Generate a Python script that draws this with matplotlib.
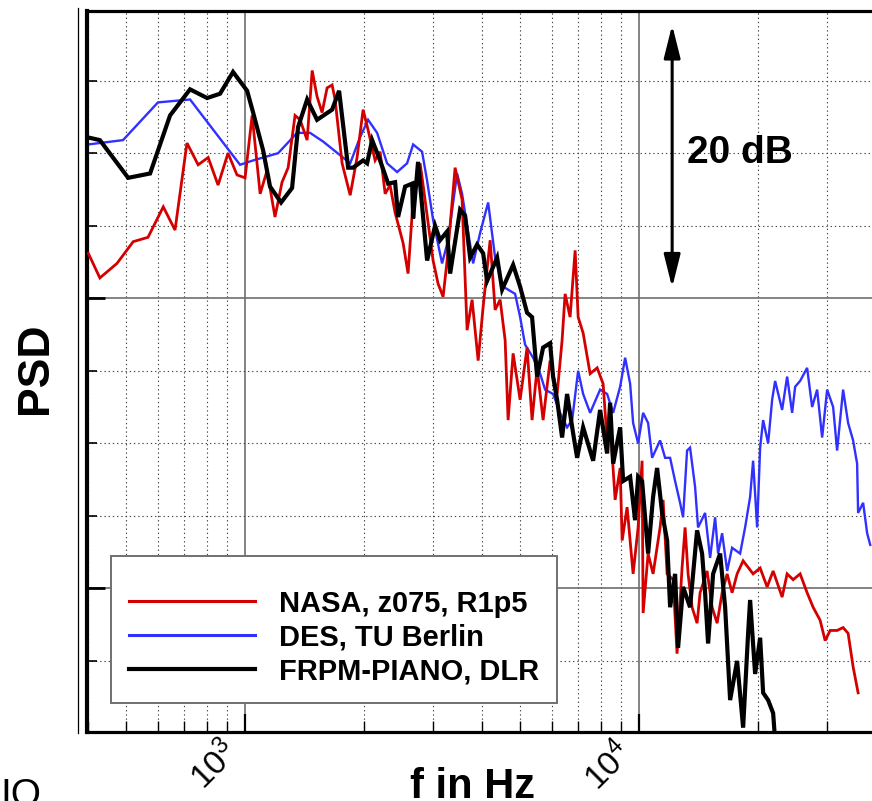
import matplotlib
matplotlib.use('Agg')
import matplotlib.pyplot as plt
from matplotlib.ticker import LogLocator, MultipleLocator, NullFormatter
from matplotlib.lines import Line2D
from matplotlib.patches import FancyArrowPatch
from matplotlib.transforms import ScaledTranslation

plt.rcParams['font.family'] = ['Liberation Sans', 'DejaVu Sans']
plt.rcParams['mathtext.fontset'] = 'custom'
plt.rcParams['mathtext.rm'] = 'Liberation Sans'

# ---------------- data (frequency in Hz, PSD in dB, relative) ----------------
nasa_f = [400, 428, 473, 520, 567, 620, 664, 712, 760, 806, 854, 905, 954, 1000,
          1042, 1092, 1137, 1191, 1241, 1286, 1339, 1379, 1437, 1480, 1523, 1568,
          1615, 1663, 1692, 1763, 1848, 1924, 1993, 2052, 2138, 2201, 2267, 2333,
          2403, 2518, 2592, 2670, 2781, 2830, 3000, 3089, 3181, 3256, 3412, 3554,
          3660, 3768, 3904, 4019, 4187, 4311, 4439, 4571, 4651, 4789, 4989, 5196,
          5350, 5510, 5706, 5944, 6193, 6376, 6489, 6681, 6881, 7003, 7210, 7511,
          7825, 8104, 8295, 8442, 8693, 8951, 9057, 9322, 9656, 9942, 10176, 10237,
          10540, 10851, 11305, 11505, 11778, 12198, 12483, 12852, 13083, 13314,
          13628, 14033, 14281, 14879, 15321, 15776, 16245, 16728, 17219, 17730,
          18365, 19468, 20284, 21131, 21886, 23066, 23750, 24600, 25624, 26695,
          27648, 28803, 29657, 30537, 31806, 32939, 33919, 34921, 35960]
nasa_db = [3.1, 1.4, 2.4, 3.9, 4.2, 6.3, 4.7, 10.7, 9.2, 9.7, 7.8, 10.0, 8.5, 8.3,
           12.6, 7.2, 8.8, 5.6, 8.0, 9.0, 12.6, 12.3, 10.9, 15.7, 13.9, 12.8,
           14.5, 14.7, 13.7, 9.3, 7.1, 9.7, 13.0, 11.6, 9.5, 10.1, 7.2, 7.8,
           5.9, 3.8, 1.7, 6.8, 9.3, 7.8, 2.6, 1.0, 0.1, 2.6, 9.0, 6.8,
           -2.2, -0.1, -4.3, -0.6, 4.0, -0.8, -0.1, -2.9, -8.4, -3.8, -7.0, -3.4,
           -8.4, -4.8, -8.4, -4.3, -6.6, -2.9, 0.3, -1.3, 3.3, -1.3, -2.4, -5.2,
           -4.8, -5.9, -9.8, -8.6, -13.9, -11.7, -16.7, -14.4, -19.0, -15.8, -11.2, -21.7,
           -17.6, -19.0, -15.8, -13.9, -19.0, -19.4, -24.5, -18.6, -15.8, -19.0,
           -21.3, -22.4, -20.3, -18.8, -21.3, -22.4, -20.3, -19.0, -20.3, -19.0,
           -18.1, -19.0, -18.6, -19.9, -18.8, -20.6, -19.0, -19.4, -19.0, -20.3,
           -21.3, -22.2, -23.6, -22.9, -22.9, -22.7, -23.1, -25.4, -27.2]

des_f = [400, 428, 490, 601, 725, 971, 1048, 1213, 1355, 1462, 1578, 1848, 1958,
         2052, 2163, 2293, 2431, 2577, 2670, 2813, 2897, 3000, 3162, 3275, 3452,
         3554, 3791, 3949, 4139, 4311, 4517, 4845, 4989, 5136, 5383, 5607, 5773,
         6049, 6302, 6565, 6761, 7003, 7210, 7511, 7962, 8295, 8592, 8951, 9216,
         9489, 9656, 9942, 10237, 10540, 10790, 11305, 11641, 11986, 12340, 12705,
         12930, 13235, 13469, 13869, 14114, 14705, 15142, 15592, 15867, 16245,
         16728, 17219, 18044, 18578, 19130, 19468, 19931, 20284, 20642, 21254,
         21758, 22143, 23066, 23750, 24455, 24889, 25624, 26695, 27487, 28301,
         29143, 30007, 31076, 31806, 32939, 33919, 34921, 35751, 35960, 37030,
         37910, 38600]
des_db = [10.6, 10.7, 10.9, 13.5, 13.7, 9.2, 9.5, 10.0, 11.4, 11.4, 10.8, 9.3, 11.1,
          12.3, 11.4, 9.3, 8.7, 9.3, 10.6, 10.1, 8.1, 5.4, 2.4, 4.0, 8.6,
          7.2, 2.4, 4.5, 6.6, 2.8, 0.8, 0.3, -1.3, -3.2, -4.1, -5.2, -6.3,
          -6.6, -7.9, -8.9, -8.4, -5.0, -6.6, -7.9, -6.3, -6.6, -7.9, -6.1, -4.1,
          -5.9, -8.6, -10.0, -7.9, -8.6, -11.0, -9.8, -11.0, -11.0, -12.6, -14.1,
          -15.1, -10.5, -10.3, -13.0, -15.8, -14.8, -17.9, -15.1, -17.6, -16.2,
          -18.8, -17.2, -17.6, -15.8, -13.7, -11.2, -15.8, -10.3, -8.4, -10.0,
          -7.0, -5.7, -7.7, -5.4, -7.9, -6.1, -5.7, -4.8, -7.5, -6.3,
          -9.6, -6.3, -7.5, -10.5, -6.3, -8.6, -9.8, -11.4, -14.8, -14.1,
          -16.2, -17.0]

frpm_f = [397, 428, 505, 574, 645, 725, 801, 864, 932, 1012, 1048, 1111, 1157,
          1234, 1316, 1363, 1437, 1523, 1663, 1732, 1826, 1880, 1993, 2040, 2101,
          2201, 2307, 2403, 2445, 2548, 2654, 2670, 2748, 2897, 3035, 3125, 3256,
          3314, 3513, 3617, 3725, 3880, 4019, 4114, 4362, 4491, 4789, 4989, 5196,
          5350, 5510, 5706, 5944, 6049, 6193, 6376, 6565, 6800, 6962, 7210, 7644,
          7962, 8295, 8442, 8592, 8951, 9108, 9489, 9768, 9942, 10176, 10540,
          10851, 11109, 11439, 11778, 11986, 12340, 12557, 12930, 13469, 14033,
          14450, 14705, 14965, 15410, 16055, 16532, 17021, 17730, 18365, 18907,
          19130, 19698, 20284, 20642, 21254, 21886, 22143]
frpm_db = [11.1, 10.9, 8.3, 8.6, 12.6, 14.4, 13.8, 14.1, 15.6, 14.3, 12.8, 10.2, 7.7,
           6.6, 7.6, 11.8, 13.7, 12.3, 13.0, 14.3, 9.0, 9.0, 9.5, 9.3, 10.9,
           9.5, 7.9, 8.0, 5.6, 7.7, 7.9, 5.5, 9.4, 2.6, 5.0, 4.0, 4.6,
           1.7, 6.1, 5.7, 2.8, 3.7, 3.1, 1.2, 2.8, 0.6, 2.3, 0.8, -1.0,
           -1.3, -5.4, -3.4, -3.1, -5.4, -7.0, -9.6, -6.6, -9.3, -11.0, -8.9, -11.2,
           -7.7, -10.7, -7.2, -11.4, -8.9, -12.6, -12.3, -15.3, -12.3, -12.6, -17.6,
           -13.7, -11.7, -14.8, -16.7, -21.3, -19.0, -24.1, -19.9, -21.3, -16.0,
           -17.6, -20.3, -23.8, -19.0, -17.6, -21.3, -27.7, -25.0, -29.6, -23.1,
           -20.8, -25.9, -23.4, -27.2, -27.7, -28.6, -30.5]

labels = ['NASA, z075, R1p5', 'DES, TU Berlin', 'FRPM-PIANO, DLR']
colors = ['#d40000', '#3030ff', '#000000']
x_ticks = [1000, 10000]
x_ticklabels = [r'$\mathregular{10^{3}}$', r'$\mathregular{10^{4}}$']

# ---------------- figure ----------------
fig = plt.figure(figsize=(8.72, 8.01), dpi=100)
ax = fig.add_axes([87 / 872, 1 - 732 / 801, 785 / 872, 721 / 801])

l_des, = ax.plot(des_f, des_db, color=colors[1], lw=1.7, zorder=2,
                 solid_joinstyle='miter')
l_nasa, = ax.plot(nasa_f, nasa_db, color=colors[0], lw=2.0, zorder=3,
                  solid_joinstyle='miter')
l_frpm, = ax.plot(frpm_f, frpm_db, color=colors[2], lw=3.0, zorder=4,
                  solid_joinstyle='miter')

ax.set_xscale('log')
ax.set_xlim(397, 39000)
ax.set_ylim(-29.9, 19.8)

ax.xaxis.set_minor_locator(LogLocator(base=10, subs=range(2, 10)))
ax.xaxis.set_minor_formatter(NullFormatter())
ax.set_xticks(x_ticks)
ax.set_xticklabels(x_ticklabels, rotation=45, ha='center', va='center',
                   rotation_mode='anchor', fontsize=24)
ax.yaxis.set_major_locator(MultipleLocator(20))
ax.yaxis.set_minor_locator(MultipleLocator(5))

ax.set_axisbelow(True)
ax.grid(which='major', color='#6e6e6e', lw=1.2, ls='-')
ax.grid(which='minor', color='#444444', lw=0.8, ls=(0, (1.2, 2.6)))

ax.tick_params(axis='x', which='major', direction='in', length=13, width=1.6,
               top=False, pad=0)
ax.tick_params(axis='x', which='minor', direction='in', length=8, width=1.0,
               top=False)
ax.tick_params(axis='y', which='major', direction='in', length=13, width=2.0,
               labelleft=False, right=False)
ax.tick_params(axis='y', which='minor', direction='in', length=7, width=1.2,
               right=False)

# shift rotated tick labels down-left of their tick, as in the original
offset = ScaledTranslation(-30 / 100, -34 / 100, fig.dpi_scale_trans)
for lab in ax.get_xticklabels():
    lab.set_transform(lab.get_transform() + offset)

ax.spines['left'].set_linewidth(3.0)
ax.spines['bottom'].set_linewidth(2.3)
ax.spines['top'].set_linewidth(2.3)
ax.spines['right'].set_visible(False)

ax.set_xlabel('f in Hz', fontsize=30, fontweight='bold')
ax.xaxis.set_label_coords(0.4917, -0.049)
ax.set_ylabel('PSD', fontsize=32, fontweight='bold')
ax.yaxis.set_label_coords(-0.040, 0.505)

# 20 dB scale arrow
arrow = FancyArrowPatch((12130, 19.03), (12130, 0.55),
                        arrowstyle='<|-|>,head_length=1.0,head_width=0.25',
                        mutation_scale=20, color='black', lw=2.2, zorder=6)
ax.add_patch(arrow)
ax.text(13235, 10.0, '20 dB', fontsize=28, fontweight='bold', va='center',
        ha='left', zorder=6)

leg = ax.legend([l_nasa, l_des, l_frpm], labels, loc='lower left',
                bbox_to_anchor=(0.0306, 0.040), borderaxespad=0,
                prop={'size': 20.9, 'weight': 'bold'}, handlelength=4.34,
                handletextpad=0.83, labelspacing=0.2, borderpad=0.62,
                title=' ', title_fontsize=7,
                frameon=True, fancybox=False, edgecolor='#707070',
                framealpha=1)
leg.get_frame().set_linewidth(1.4)
for h, w in zip(leg.get_lines(), [2.2, 2.2, 3.0]):
    h.set_linewidth(w)
leg.set_zorder(10)

# thin frame line at the left and cropped text fragment at bottom-left
fig.add_artist(Line2D([78 / 872, 78 / 872], [1 - 8 / 801, 1 - 733 / 801],
                      transform=fig.transFigure, color='black', lw=0.9))
fig.text(41 / 872, 1 - 778 / 801, 'IO', fontsize=28, ha='right', va='top')

fig.savefig('out.png', dpi=100)
